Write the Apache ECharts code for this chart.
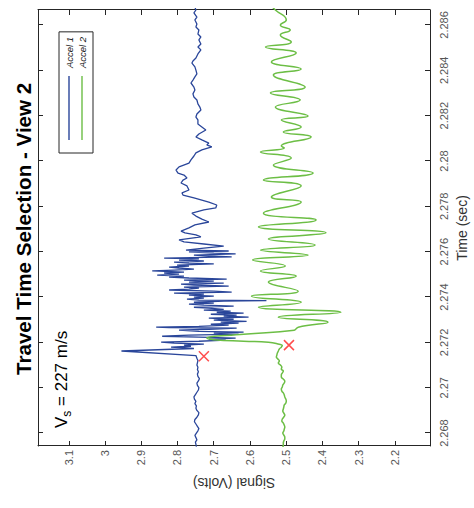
<!DOCTYPE html>
<html>
<head>
<meta charset="utf-8">
<script src="https://cdn.jsdelivr.net/npm/echarts@6/dist/echarts.min.js"></script>
<style>
html,body{margin:0;padding:0;background:#fff;overflow:hidden;}
#wrap{position:relative;width:474px;height:508px;overflow:hidden;background:#fff;}
#main{position:absolute;left:0;top:0;width:508px;height:474px;transform-origin:0 0;transform:translateY(508px) rotate(-90deg);}
</style>
</head>
<body>
<div id="wrap"><div id="main"></div></div>
<script>
const titleText = 'Travel Time Selection - View 2';
const seriesNames = ['Accel 1', 'Accel 2'];
const timeTicks = [2.268, 2.270, 2.272, 2.274, 2.276, 2.278, 2.280, 2.282, 2.284, 2.286];
const signalTicks = [2.2, 2.3, 2.4, 2.5, 2.6, 2.7, 2.8, 2.9, 3.0, 3.1];
const timeRange = [2.26743, 2.28666];
const signalRange = [2.103, 3.185];

// [time (s), signal (V)]
const accel1 = [
[2.2674,2.7478],[2.2675,2.7491],[2.2676,2.7505],[2.2677,2.7464],[2.2678,2.7491],[2.2679,2.7519],[2.2680,2.7478],[2.2681,2.7436],[2.2682,2.7409],[2.2683,2.7450],[2.2684,2.7491],[2.2685,2.7532],[2.2686,2.7519],[2.2687,2.7464],[2.2688,2.7423],[2.2689,2.7409],[2.2690,2.7464],[2.2691,2.7491],[2.2692,2.7478],[2.2693,2.7519],[2.2694,2.7491],[2.2695,2.7532],[2.2696,2.7546],[2.2697,2.7505],[2.2698,2.7464],[2.2699,2.7423],[2.2700,2.7409],[2.2701,2.7450],[2.2702,2.7464],[2.2703,2.7423],[2.2704,2.7395],[2.2705,2.7436],[2.2706,2.7450],[2.2707,2.7423],[2.2708,2.7450],[2.2709,2.7436],[2.2710,2.7464],[2.2711,2.7450],[2.2712,2.7436],[2.2713,2.7464],[2.27142,2.7491],[2.27162,2.9547],[2.27173,2.7546],
[2.27179,2.8177],[2.27183,2.7628],[2.27188,2.7820],[2.27192,2.7272],[2.27197,2.8094],[2.27201,2.8451],[2.27205,2.7409],[2.27210,2.6669],[2.27214,2.7135],[2.27219,2.6395],[2.27223,2.7409],[2.27227,2.8423],[2.27232,2.7683],[2.27236,2.6313],[2.27241,2.6998],[2.27245,2.6175],[2.27249,2.7409],[2.27254,2.7957],[2.27258,2.7135],[2.27263,2.6367],[2.27265,2.8231],[2.27267,2.8588],[2.27271,2.7409],[2.27276,2.6587],[2.27280,2.7080],[2.27285,2.6313],[2.27289,2.6806],[2.27293,2.6093],[2.27298,2.6998],[2.27302,2.6450],[2.27307,2.7135],[2.27311,2.6038],[2.27316,2.6724],[2.27320,2.6367],[2.27324,2.7080],[2.27329,2.6175],[2.27333,2.6916],[2.27338,2.6532],[2.27342,2.7272],[2.27346,2.6724],[2.27351,2.7135],[2.27355,2.7546],[2.27360,2.6450],[2.27364,2.7272],[2.27369,2.7683],[2.27373,2.6998],[2.27377,2.7546],[2.27382,2.6724],[2.27384,2.5545],[2.27386,2.7409],[2.27391,2.7738],[2.27395,2.7272],[2.27400,2.7546],[2.27404,2.6998],[2.27408,2.7683],[2.27413,2.7272],[2.27417,2.8094],[2.27422,2.6504],[2.27426,2.6998],[2.27431,2.8231],[2.27435,2.7683],[2.27439,2.7409],[2.27444,2.7820],[2.27448,2.6587],[2.27453,2.7546],[2.27457,2.7902],[2.27461,2.6724],[2.27466,2.7683],[2.27470,2.6998],[2.27475,2.7820],[2.27479,2.6642],[2.27484,2.7683],[2.27488,2.8231],[2.27492,2.7820],[2.27497,2.8560],[2.27501,2.7957],[2.27506,2.8368],[2.27510,2.7820],[2.27515,2.8697],[2.27519,2.8094],[2.27523,2.7546],[2.27528,2.7957],[2.27532,2.8231],[2.27537,2.7683],[2.27541,2.8012],[2.27546,2.6998],[2.27550,2.7683],[2.27554,2.8094],[2.27559,2.7272],[2.27563,2.7957],[2.27568,2.7409],[2.27572,2.8368],[2.27577,2.6504],[2.27581,2.7135],[2.27585,2.7546],[2.27590,2.6395],[2.27594,2.6998],[2.27599,2.7683],[2.27603,2.6587],[2.27607,2.7765],
[2.27616,2.7272],[2.27625,2.6724],[2.27634,2.7272],[2.27643,2.7820],[2.27652,2.7957],[2.27665,2.7354],[2.27674,2.7491],[2.27683,2.7793],[2.27691,2.7902],[2.27705,2.7683],[2.27718,2.7519],[2.27731,2.7135],[2.27744,2.7327],[2.27757,2.7491],[2.27770,2.7601],[2.27784,2.7272],[2.27793,2.6943],[2.27806,2.6916],[2.27819,2.7135],[2.27837,2.7546],[2.27850,2.7848],[2.27859,2.7875],[2.27872,2.7683],[2.27890,2.7738],[2.27903,2.7902],[2.27916,2.7848],[2.27925,2.7738],[2.27938,2.7820],[2.27947,2.7985],[2.27960,2.8040],[2.27974,2.7957],[2.27991,2.7683],[2.28005,2.7628],[2.28022,2.7546],[2.28036,2.7491],[2.28049,2.7327],[2.28062,2.7053],[2.28071,2.7190],[2.28079,2.7135],[2.28093,2.7327],[2.28106,2.7491],[2.28119,2.7409],[2.28137,2.7217],[2.28150,2.7327],[2.28163,2.7436],[2.28181,2.7436],[2.28194,2.7491],[2.28207,2.7464],[2.28225,2.7354],[2.28238,2.7382],[2.28252,2.7436],[2.28269,2.7464],[2.28282,2.7546],[2.28296,2.7573],[2.28313,2.7519],[2.28326,2.7546],[2.28344,2.7628],[2.28357,2.7573],[2.28371,2.7519],[2.28384,2.7464],[2.28401,2.7491],[2.28415,2.7519],[2.28432,2.7601],[2.28441,2.7573],[2.28454,2.7491],[2.28472,2.7436],[2.28490,2.7354],[2.28503,2.7436],[2.28516,2.7354],[2.28534,2.7409],[2.28547,2.7354],[2.28560,2.7436],[2.28578,2.7409],[2.28591,2.7491],[2.28604,2.7464],[2.28622,2.7519],[2.28635,2.7464],[2.28653,2.7546],[2.28666,2.7491],[2.28679,2.7519]
];

const accel2 = [
[2.26738,2.5093],[2.26747,2.5079],[2.26756,2.5079],[2.26765,2.5065],[2.26774,2.5038],[2.26782,2.5038],[2.26791,2.5065],[2.26800,2.5093],[2.26809,2.5065],[2.26818,2.5052],[2.26826,2.5038],[2.26835,2.5052],[2.26844,2.5079],[2.26853,2.5120],[2.26862,2.5106],[2.26871,2.5065],[2.26879,2.5038],[2.26888,2.5065],[2.26897,2.5093],[2.26906,2.5079],[2.26915,2.5065],[2.26924,2.5052],[2.26932,2.5010],[2.26941,2.4997],[2.26950,2.5010],[2.26959,2.5038],[2.26968,2.5052],[2.26977,2.5079],[2.26985,2.5120],[2.26994,2.5134],[2.27003,2.5106],[2.27012,2.5093],[2.27021,2.5052],[2.27029,2.5038],[2.27038,2.5079],[2.27047,2.5134],[2.27056,2.5134],[2.27065,2.5106],[2.27074,2.5079],[2.27082,2.5134],[2.27091,2.5120],[2.27100,2.5161],[2.27109,2.5216],[2.27118,2.5189],[2.27127,2.5230],[2.27135,2.5271],[2.27144,2.5257],[2.27153,2.5243],[2.27162,2.5216],[2.27171,2.5189],[2.27179,2.5134],[2.27186,2.5106],
[2.27192,2.5189],[2.27201,2.5490],[2.27205,2.6175],[2.27212,2.6998],[2.27219,2.7190],[2.27236,2.6175],[2.27254,2.4777],[2.27267,2.4668],[2.27289,2.3846],[2.27311,2.5216],[2.27333,2.3490],[2.27355,2.5764],[2.27377,2.4586],[2.27404,2.5956],[2.27426,2.4668],[2.27466,2.5490],[2.27492,2.4723],[2.27515,2.5709],[2.27537,2.5024],[2.27563,2.5928],[2.27585,2.4394],[2.27607,2.5709],[2.27630,2.4202],[2.27656,2.5490],[2.27683,2.3901],[2.27709,2.5764],[2.27740,2.4175],[2.27770,2.5627],[2.27819,2.4586],[2.27841,2.5408],[2.27890,2.4586],[2.27916,2.5627],[2.27947,2.4257],[2.27982,2.5353],[2.28013,2.4860],[2.28040,2.5709],[2.28057,2.5052],[2.28066,2.5134],[2.28106,2.4312],[2.28128,2.5079],[2.28150,2.4586],[2.28181,2.5134],[2.28198,2.4394],[2.28238,2.5298],[2.28269,2.4613],[2.28300,2.5435],[2.28326,2.4476],[2.28379,2.5353],[2.28406,2.4586],[2.28437,2.5408],[2.28476,2.4723],[2.28503,2.5572],[2.28525,2.4860],[2.28556,2.5161],[2.28578,2.4887],[2.28600,2.5161],[2.28622,2.4997],[2.28666,2.5298],[2.28679,2.5381]
];

// picked arrival times [time, signal]
const picks = [[2.27139, 2.7272], [2.27188, 2.4923]];

const FONT = '"Liberation Sans", Arial, Helvetica, sans-serif';
const BLUE = '#2A469A';
const GREEN = '#6CBE45';
const AXIS = '#262626';
const fmt = v => String(Number(v.toFixed(3)));

const chart = echarts.init(document.getElementById('main'), null, {renderer: 'svg', width: 508, height: 474});

function axisBase(range, ticks) {
  return {
    type: 'value', min: range[0], max: range[1],
    axisLine: {show: true, onZero: false, lineStyle: {color: AXIS, width: 1}},
    axisTick: {show: true, inside: true, length: 5, customValues: ticks, lineStyle: {color: AXIS, width: 1}},
    splitLine: {show: false}
  };
}

chart.setOption({
  animation: false,
  backgroundColor: '#fff',
  title: {
    text: titleText, left: 133, top: 12.5, padding: 0,
    textStyle: {fontFamily: FONT, fontSize: 20.6, fontWeight: 'bold', color: '#000'}
  },
  legend: {
    data: seriesNames, orient: 'vertical', left: 355, top: 59,
    padding: [4, 5, 5, 13], itemWidth: 64, itemHeight: 1.4, itemGap: 1, icon: 'rect',
    borderColor: AXIS, borderWidth: 1, backgroundColor: '#fff', selectedMode: false,
    textStyle: {fontFamily: FONT, fontSize: 9.5, lineHeight: 12, fontStyle: 'italic', color: '#222', padding: [0, 0, 0, 3]}
  },
  grid: {left: 62, right: 10, top: 38, bottom: 41.3, show: false, containLabel: false},
  xAxis: [
    Object.assign(axisBase(timeRange, timeTicks), {
      position: 'bottom',
      axisLabel: {show: true, customValues: timeTicks, formatter: fmt, margin: 8, color: '#555', fontFamily: FONT, fontSize: 11},
      name: 'Time (sec)', nameLocation: 'middle', nameGap: 25,
      nameTextStyle: {fontFamily: FONT, fontSize: 14, color: '#333'}
    }),
    Object.assign(axisBase(timeRange, timeTicks), {position: 'top', axisLabel: {show: false}})
  ],
  yAxis: [
    Object.assign(axisBase(signalRange, signalTicks), {
      position: 'left',
      axisLabel: {show: true, customValues: signalTicks, formatter: fmt, margin: 4, color: '#555', fontFamily: FONT, fontSize: 11},
      name: 'Signal (Volts)', nameLocation: 'middle', nameGap: 28.5,
      nameTextStyle: {fontFamily: FONT, fontSize: 14, color: '#333'}
    }),
    Object.assign(axisBase(signalRange, signalTicks), {position: 'right', axisLabel: {show: false}})
  ],
  graphic: [{
    type: 'text', x: 80, y: 49,
    style: {
      text: '{a|V}{b|s}{a| = 227 m/s}',
      fill: '#000',
      rich: {
        a: {fontFamily: FONT, fontSize: 17, lineHeight: 24, verticalAlign: 'middle', fill: '#000'},
        b: {fontFamily: FONT, fontSize: 12, lineHeight: 11, verticalAlign: 'bottom', fill: '#000'}
      }
    }
  }],
  series: [
    {name: seriesNames[0], type: 'line', data: accel1, symbol: 'none', showSymbol: false,
     lineStyle: {color: BLUE, width: 1.3}, itemStyle: {color: BLUE}, z: 2},
    {name: seriesNames[1], type: 'line', data: accel2, symbol: 'none', showSymbol: false, smooth: 0.5,
     lineStyle: {color: GREEN, width: 1.5}, itemStyle: {color: GREEN}, z: 3},
    {name: 'Picks', type: 'scatter', data: picks, symbol: 'path://M0,0L10,10M10,0L0,10', symbolSize: 10,
     itemStyle: {color: 'transparent', borderColor: '#FF2020', borderWidth: 1.5}, z: 5, silent: true}
  ]
});
</script>
</body>
</html>
